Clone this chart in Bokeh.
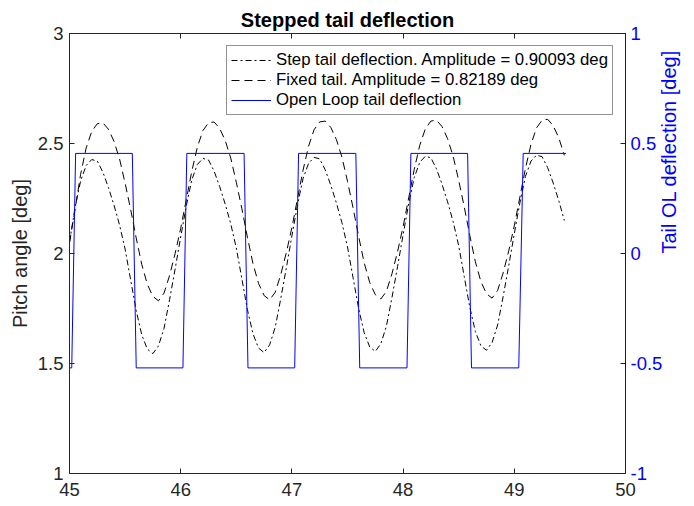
import math
from bokeh.plotting import figure
from bokeh.models import (Range1d, LinearAxis, FixedTicker, NumeralTickFormatter,
                          CustomJSTickFormatter, Legend, LegendItem)
from bokeh.embed import file_html
from bokeh.resources import INLINE

# ---- data ----
time = [45.00, 45.05, 45.10, 45.15, 45.20, 45.25, 45.30, 45.35, 45.40, 45.45,
        45.50, 45.55, 45.60, 45.65, 45.70, 45.75, 45.80, 45.85, 45.90, 45.95,
        46.00, 46.05, 46.10, 46.15, 46.20, 46.25, 46.30, 46.35, 46.40, 46.45,
        46.50, 46.55, 46.60, 46.65, 46.70, 46.75, 46.80, 46.85, 46.90, 46.95,
        47.00, 47.05, 47.10, 47.15, 47.20, 47.25, 47.30, 47.35, 47.40, 47.45,
        47.50, 47.55, 47.60, 47.65, 47.70, 47.75, 47.80, 47.85, 47.90, 47.95,
        48.00, 48.05, 48.10, 48.15, 48.20, 48.25, 48.30, 48.35, 48.40, 48.45,
        48.50, 48.55, 48.60, 48.65, 48.70, 48.75, 48.80, 48.85, 48.90, 48.95,
        49.00, 49.05, 49.10, 49.15, 49.20, 49.25, 49.30, 49.35, 49.40, 49.45]

step_tail = [2.05, 2.21, 2.33, 2.40, 2.427, 2.42, 2.37, 2.30, 2.22, 2.13,
             2.02, 1.88, 1.74, 1.63, 1.565, 1.545, 1.58, 1.66, 1.79, 1.93,
             2.075, 2.215, 2.335, 2.405, 2.432, 2.425, 2.375, 2.305, 2.225, 2.135,
             2.025, 1.885, 1.745, 1.635, 1.57, 1.55, 1.585, 1.665, 1.795, 1.935,
             2.08, 2.22, 2.34, 2.41, 2.437, 2.43, 2.38, 2.31, 2.23, 2.14,
             2.03, 1.89, 1.75, 1.64, 1.575, 1.555, 1.59, 1.67, 1.80, 1.94,
             2.085, 2.225, 2.345, 2.415, 2.442, 2.435, 2.385, 2.315, 2.235, 2.145,
             2.035, 1.895, 1.755, 1.645, 1.58, 1.56, 1.595, 1.675, 1.805, 1.945,
             2.09, 2.23, 2.35, 2.42, 2.447, 2.44, 2.39, 2.32, 2.24, 2.15]

fixed_tail = [2.05, 2.20, 2.36, 2.48, 2.555, 2.59, 2.594, 2.565, 2.51, 2.43,
              2.32, 2.20, 2.07, 1.95, 1.86, 1.805, 1.785, 1.82, 1.90, 2.00,
              2.114, 2.244, 2.374, 2.484, 2.559, 2.594, 2.598, 2.569, 2.514, 2.434,
              2.324, 2.204, 2.074, 1.954, 1.864, 1.809, 1.789, 1.824, 1.904, 2.004,
              2.118, 2.248, 2.378, 2.488, 2.563, 2.598, 2.602, 2.573, 2.518, 2.438,
              2.328, 2.208, 2.078, 1.958, 1.868, 1.813, 1.793, 1.828, 1.908, 2.008,
              2.122, 2.252, 2.382, 2.492, 2.567, 2.602, 2.606, 2.577, 2.522, 2.442,
              2.332, 2.212, 2.082, 1.962, 1.872, 1.817, 1.797, 1.832, 1.912, 2.012,
              2.126, 2.256, 2.386, 2.496, 2.571, 2.606, 2.61, 2.581, 2.526, 2.446]

ol_time = [45.00, 45.02, 45.055, 45.565, 45.60, 46.02, 46.055, 46.57, 46.605,
           47.025, 47.06, 47.575, 47.61, 48.035, 48.07, 48.58, 48.615, 49.04,
           49.08, 49.465]
ol_defl = [-0.52, -0.52, 0.455, 0.455, -0.52, -0.52, 0.455, 0.455, -0.52,
           -0.52, 0.455, 0.455, -0.52, -0.52, 0.455, 0.455, -0.52, -0.52,
           0.455, 0.455]

x_ticks = [45, 46, 47, 48, 49, 50]
left_ticks = [1, 1.5, 2, 2.5, 3]
right_ticks = [-1, -0.5, 0, 0.5, 1]

title_text = "Stepped tail deflection"
left_label = "Pitch angle [deg]"
right_label = "Tail OL deflection [deg]"
legend_labels = ["Step tail deflection. Amplitude = 0.90093 deg",
                 "Fixed tail. Amplitude = 0.82189 deg",
                 "Open Loop tail deflection"]

# ---- styling ----
FONT = "Liberation Sans"
AX = "#262626"
BLUE = "#0000ff"

p = figure(width=694, height=506, output_backend="svg", toolbar_location=None,
           x_range=Range1d(45, 50), y_range=Range1d(1, 3),
           min_border_left=69, min_border_right=69, min_border_top=33,
           min_border_bottom=33, x_axis_location="below")
p.extra_y_ranges = {"right": Range1d(-1, 1)}
p.background_fill_color = "white"
p.border_fill_color = "white"
p.outline_line_color = None
p.grid.visible = False

p.title.text = title_text
p.title.text_font = FONT
p.title.text_font_size = "20px"
p.title.text_font_style = "bold"
p.title.text_color = "black"
p.title.align = "center"
p.title.standoff = 5
p.title.offset = 0

def style_axis(ax, color, fs="18.5px"):
    ax.axis_line_color = color
    ax.major_tick_line_color = color
    ax.major_tick_in = 5
    ax.major_tick_out = 0
    ax.minor_tick_line_color = None
    ax.major_label_text_color = color
    ax.major_label_text_font = FONT
    ax.major_label_text_font_size = fs
    ax.axis_label_text_font = FONT
    ax.axis_label_text_font_size = "20px"
    ax.axis_label_text_font_style = "normal"
    ax.axis_label_text_color = color

xa = p.xaxis[0]
style_axis(xa, AX)
xa.ticker = FixedTicker(ticks=x_ticks)
xa.major_label_standoff = 9

ya = p.yaxis[0]
style_axis(ya, AX)
ya.ticker = FixedTicker(ticks=left_ticks)
ya.formatter = NumeralTickFormatter(format="0.[0]")
ya.axis_label = left_label
ya.major_label_standoff = 6
ya.axis_label_standoff = 4

top = LinearAxis(ticker=FixedTicker(ticks=x_ticks),
                 formatter=CustomJSTickFormatter(code="return ''"))
style_axis(top, AX, fs="1px")
top.major_label_standoff = 0
p.add_layout(top, "above")

ra = LinearAxis(y_range_name="right", ticker=FixedTicker(ticks=right_ticks),
                formatter=NumeralTickFormatter(format="0.[0]"))
style_axis(ra, BLUE)
ra.axis_label = right_label
ra.axis_label_text_font_size = "20px"
ra.major_label_standoff = 5
ra.axis_label_standoff = 4
ra.axis_label_orientation = math.pi / 2
p.add_layout(ra, "right")

r1 = p.line(time, step_tail, line_color="black", line_width=1, line_dash="6 3 2 3")
r2 = p.line(time, fixed_tail, line_color="black", line_width=1, line_dash="8 5")
r3 = p.line(ol_time, ol_defl, line_color=BLUE, line_width=1, y_range_name="right")

leg = Legend(items=[LegendItem(label=legend_labels[0], renderers=[r1]),
                    LegendItem(label=legend_labels[1], renderers=[r2]),
                    LegendItem(label=legend_labels[2], renderers=[r3])],
             location=(157, 358))
leg.label_text_font = FONT
leg.label_text_font_size = "16.75px"
leg.label_text_color = "black"
leg.glyph_width = 40
leg.glyph_height = 20
leg.label_height = 20
leg.label_standoff = 5
leg.padding = 4
leg.spacing = 0
leg.margin = 0
leg.border_line_color = AX
leg.border_line_width = 1
leg.background_fill_color = "white"
leg.background_fill_alpha = 1
p.add_layout(leg, "center")

open("out.html", "w").write(file_html(p, INLINE))
